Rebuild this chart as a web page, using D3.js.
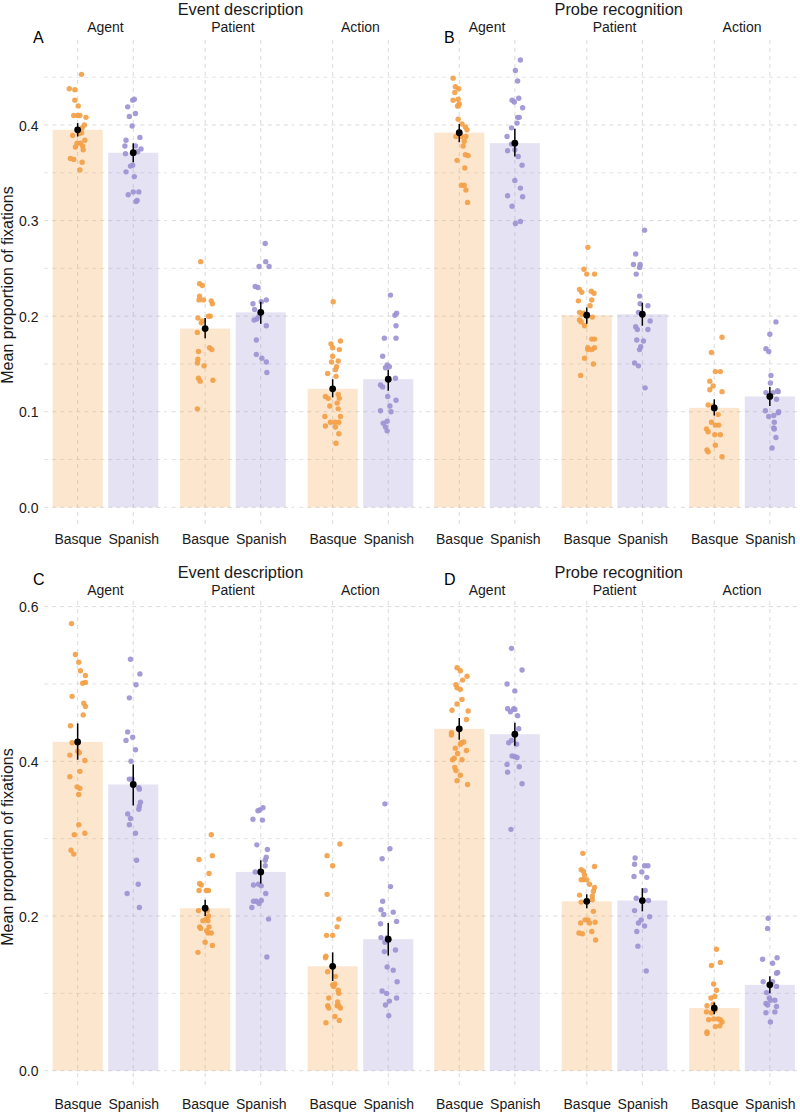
<!DOCTYPE html>
<html><head><meta charset="utf-8">
<script src="https://cdn.jsdelivr.net/npm/d3@7"></script>
<style>body{margin:0;background:#fff} svg{display:block} text{font-family:"Liberation Sans",Arial,Helvetica,sans-serif}</style>
</head><body><svg id="c" width="800" height="1113"></svg>
<script>
const languages = ["Basque","Spanish"];
const roles = ["Agent","Patient","Action"];
const panelLabels = ["A","B","C","D"];
const taskTitles = ["Event description","Probe recognition","Event description","Probe recognition"];
const yAxisTitle = "Mean proportion of fixations";
const yTicksTop = [0,0.1,0.2,0.3,0.4];
const yMinorTop = [0.05,0.15,0.25,0.35,0.45];
const yTicksBottom = [0,0.2,0.4,0.6];
const yMinorBottom = [0.1,0.3,0.5];

// order: Agent-Basque, Agent-Spanish, Patient-Basque, Patient-Spanish, Action-Basque, Action-Spanish
const meanA = [0.395,0.371,0.187,0.204,0.124,0.134];
const lowA  = [0.388,0.361,0.177,0.192,0.115,0.122];
const highA = [0.402,0.381,0.198,0.215,0.134,0.144];
const meanB = [0.392,0.381,0.201,0.202,0.104,0.116];
const lowB  = [0.382,0.367,0.192,0.190,0.096,0.106];
const highB = [0.401,0.396,0.209,0.214,0.113,0.126];
const meanC = [0.425,0.370,0.210,0.257,0.135,0.170];
const lowC  = [0.402,0.343,0.200,0.242,0.116,0.149];
const highC = [0.449,0.396,0.221,0.272,0.153,0.191];
const meanD = [0.442,0.435,0.219,0.220,0.081,0.111];
const lowD  = [0.428,0.420,0.210,0.206,0.073,0.100];
const highD = [0.456,0.450,0.228,0.236,0.088,0.122];

// participant points: [value, horizontal jitter as fraction of category step]
const ptsA = [
 [[0.453,0.07],[0.438,-0.15],[0.437,-0.05],[0.426,-0.05],[0.420,0.01],[0.410,-0.07],[0.410,0],[0.410,0.04],[0.408,0.15],[0.400,0.12],[0.397,0.08],[0.392,0.07],[0.391,0.03],[0.389,-0.09],[0.384,0.13],[0.381,-0.01],[0.381,0.05],[0.378,0.09],[0.377,-0.04],[0.374,0.10],[0.365,-0.13],[0.364,-0.07],[0.361,0.08],[0.353,0.04]],
 [[0.427,0.02],[0.426,-0.01],[0.419,-0.10],[0.412,0.04],[0.409,-0.07],[0.399,-0.02],[0.387,0.12],[0.384,-0.13],[0.378,-0.15],[0.378,0.04],[0.375,0.14],[0.372,0.08],[0.370,-0.14],[0.357,-0.05],[0.358,-0.01],[0.351,-0.13],[0.346,0.02],[0.327,-0.09],[0.330,0],[0.330,0.10],[0.320,0.05],[0.321,0.07]],
 [[0.257,-0.08],[0.234,-0.10],[0.232,-0.05],[0.221,-0.10],[0.217,-0.11],[0.217,-0.03],[0.216,0.11],[0.213,0.13],[0.200,0.06],[0.200,0.09],[0.198,-0.13],[0.195,-0.05],[0.193,-0.07],[0.183,-0.14],[0.163,-0.12],[0.167,0.08],[0.165,0.12],[0.155,-0.13],[0.151,-0.14],[0.148,-0.02],[0.135,-0.12],[0.132,-0.09],[0.133,0.14],[0.103,-0.14]],
 [[0.276,0.08],[0.257,0.09],[0.252,-0.03],[0.252,0.15],[0.231,-0.10],[0.230,-0.05],[0.213,-0.14],[0.215,0.01],[0.217,0.10],[0.207,-0.11],[0.196,-0.12],[0.197,-0.07],[0.200,-0.03],[0.190,0.10],[0.175,-0.08],[0.160,-0.08],[0.156,0.02],[0.152,0.10],[0.141,0.11]],
 [[0.215,0.01],[0.171,-0.03],[0.174,0.14],[0.167,0],[0.165,0.12],[0.158,0],[0.153,0.10],[0.152,-0.02],[0.147,0.07],[0.144,0.05],[0.140,-0.09],[0.137,0.06],[0.116,-0.13],[0.114,-0.08],[0.118,0.10],[0.114,0.12],[0.109,0.08],[0.106,-0.05],[0.103,0.10],[0.095,-0.14],[0.095,0.14],[0.089,-0.04],[0.089,0.04],[0.089,0.11],[0.085,-0.13],[0.084,0.05],[0.077,0.11],[0.067,0.06]],
 [[0.222,0.04],[0.203,0.15],[0.201,0.12],[0.190,0.14],[0.177,-0.07],[0.177,0.14],[0.158,-0.10],[0.149,-0.02],[0.147,0.02],[0.146,-0.05],[0.135,0.13],[0.128,-0.14],[0.126,-0.10],[0.116,-0.01],[0.112,0.14],[0.101,-0.14],[0.100,0.05],[0.106,0.03],[0.090,-0.02],[0.088,-0.09],[0.084,-0.05],[0.080,-0.02]]
];
const ptsB = [
 [[0.449,-0.11],[0.440,-0.07],[0.438,-0.01],[0.434,-0.08],[0.426,-0.11],[0.427,-0.02],[0.422,0],[0.420,-0.02],[0.420,-0.03],[0.406,-0.02],[0.401,0.05],[0.398,0.11],[0.395,0.14],[0.388,-0.06],[0.388,0.04],[0.388,0.12],[0.383,0.09],[0.378,0.07],[0.369,0.11],[0.368,0.16],[0.363,-0.04],[0.355,0.10],[0.337,0.04],[0.337,0.09],[0.332,0.12],[0.319,0.15]],
 [[0.468,0.10],[0.457,0.01],[0.446,0.05],[0.426,-0.05],[0.424,-0.01],[0.428,0.07],[0.418,0.14],[0.408,0.05],[0.408,0.08],[0.402,0.04],[0.397,-0.06],[0.388,-0.14],[0.380,-0.06],[0.373,-0.13],[0.374,0],[0.367,0.06],[0.358,0.13],[0.342,0],[0.334,0.10],[0.326,-0.13],[0.325,0.14],[0.315,-0.05],[0.297,0.01],[0.299,0.10]],
 [[0.272,0.02],[0.249,-0.05],[0.244,0],[0.244,0.14],[0.228,-0.13],[0.225,-0.09],[0.226,0.08],[0.224,0.13],[0.216,-0.15],[0.217,0.09],[0.211,0.06],[0.204,-0.13],[0.202,-0.08],[0.203,-0.05],[0.199,0.10],[0.196,-0.13],[0.194,-0.10],[0.190,-0.04],[0.176,0.09],[0.176,0.14],[0.167,0.02],[0.167,0.14],[0.165,0.09],[0.165,0.02],[0.156,-0.04],[0.150,0.12],[0.138,-0.11]],
 [[0.290,0.04],[0.265,-0.12],[0.254,-0.16],[0.254,-0.04],[0.251,-0.05],[0.244,-0.11],[0.221,-0.05],[0.213,-0.04],[0.211,0.10],[0.204,-0.07],[0.195,0.14],[0.189,-0.12],[0.186,-0.09],[0.186,0.10],[0.175,-0.10],[0.174,0.02],[0.168,-0.03],[0.165,-0.05],[0.151,-0.14],[0.148,-0.07],[0.125,0.05]],
 [[0.178,0.14],[0.162,-0.05],[0.142,0.02],[0.142,0.11],[0.132,-0.08],[0.127,-0.02],[0.121,0.14],[0.123,-0.08],[0.107,-0.11],[0.106,-0.02],[0.097,0.07],[0.089,-0.05],[0.086,0.02],[0.086,0.08],[0.082,-0.14],[0.079,-0.11],[0.076,0.01],[0.076,0.11],[0.065,0.02],[0.060,-0.13],[0.058,-0.11],[0.053,0.14]],
 [[0.194,0.11],[0.181,0],[0.166,-0.07],[0.163,-0.02],[0.138,0.02],[0.130,0.01],[0.120,-0.07],[0.120,0.06],[0.122,0.14],[0.121,0.15],[0.113,0.12],[0.101,-0.08],[0.095,-0.02],[0.096,0.07],[0.099,0.15],[0.100,0.16],[0.089,0.08],[0.083,0.07],[0.082,0.08],[0.073,0.11],[0.062,0.04]]
];
const ptsC = [
 [[0.578,-0.11],[0.538,-0.04],[0.528,0.02],[0.517,0.05],[0.511,0.14],[0.501,0.09],[0.502,0.14],[0.484,-0.10],[0.475,0.11],[0.471,0.14],[0.460,0.10],[0.446,-0.13],[0.424,-0.10],[0.413,0],[0.411,0.03],[0.408,-0.14],[0.401,0.13],[0.387,0.04],[0.380,-0.14],[0.367,-0.01],[0.365,0.04],[0.357,0.02],[0.318,0.02],[0.305,-0.06],[0.307,0.13],[0.285,-0.12],[0.280,-0.07]],
 [[0.532,-0.05],[0.513,0.12],[0.499,0.05],[0.482,-0.07],[0.438,-0.10],[0.427,-0.13],[0.431,-0.01],[0.415,0.04],[0.400,-0.04],[0.377,-0.07],[0.377,-0.02],[0.366,0.10],[0.364,0.11],[0.347,0.13],[0.342,0.11],[0.338,0.10],[0.332,-0.10],[0.326,-0.05],[0.318,-0.07],[0.307,0.04],[0.272,0.06],[0.241,0.09],[0.229,-0.11],[0.211,0.11]],
 [[0.305,0.11],[0.278,0.13],[0.273,-0.11],[0.255,0.07],[0.242,-0.10],[0.240,-0.07],[0.233,-0.11],[0.233,0.02],[0.233,0.06],[0.207,0.04],[0.207,-0.12],[0.200,0.06],[0.196,0.02],[0.194,-0.04],[0.194,0.05],[0.186,-0.10],[0.184,-0.08],[0.186,0.07],[0.181,0.03],[0.178,0.11],[0.178,0.05],[0.166,0],[0.162,0.13],[0.153,-0.13]],
 [[0.340,0.04],[0.337,-0.02],[0.336,-0.05],[0.325,-0.14],[0.324,0.03],[0.292,-0.07],[0.286,0.12],[0.276,0.10],[0.272,0.08],[0.265,0.08],[0.257,-0.10],[0.257,0.01],[0.240,-0.13],[0.241,-0.04],[0.239,0.01],[0.229,0.09],[0.219,-0.13],[0.219,-0.08],[0.220,0.01],[0.216,-0.03],[0.211,-0.16],[0.196,0.14],[0.147,0.11]],
 [[0.293,0.13],[0.278,-0.10],[0.265,0],[0.228,-0.10],[0.196,0.11],[0.186,0.08],[0.175,-0.11],[0.175,0],[0.148,-0.12],[0.146,-0.13],[0.128,-0.09],[0.122,0.05],[0.111,0],[0.109,0.02],[0.112,0.04],[0.104,0.10],[0.100,0.11],[0.094,-0.07],[0.084,-0.09],[0.081,-0.07],[0.089,0.09],[0.084,0.08],[0.081,0.14],[0.084,0.11],[0.070,0.04],[0.065,0.12],[0.062,-0.12]],
 [[0.345,-0.06],[0.287,0.03],[0.274,-0.11],[0.238,0.04],[0.219,-0.10],[0.208,-0.13],[0.202,-0.08],[0.205,0.09],[0.193,0.15],[0.190,-0.14],[0.172,-0.13],[0.172,-0.02],[0.166,-0.06],[0.156,0.13],[0.154,-0.07],[0.134,-0.02],[0.130,0.09],[0.115,0.16],[0.103,-0.11],[0.100,-0.03],[0.090,0.02],[0.085,-0.05],[0.094,0.15],[0.071,0.01]]
];
const ptsD = [
 [[0.521,-0.04],[0.517,0.02],[0.510,0.14],[0.505,0.06],[0.499,-0.06],[0.495,-0.04],[0.493,0.02],[0.480,0.05],[0.474,-0.04],[0.466,-0.13],[0.465,0.16],[0.454,0.13],[0.437,-0.14],[0.434,-0.14],[0.424,0.04],[0.425,0.08],[0.422,0.02],[0.417,-0.07],[0.414,0.13],[0.410,-0.03],[0.402,-0.12],[0.404,-0.09],[0.402,0.05],[0.392,-0.08],[0.388,-0.06],[0.382,0.02],[0.375,-0.04],[0.370,0.15]],
 [[0.546,-0.06],[0.518,0.13],[0.500,-0.14],[0.491,0],[0.468,-0.13],[0.468,-0.02],[0.464,-0.08],[0.467,0],[0.459,0.05],[0.442,0.07],[0.424,-0.11],[0.427,-0.06],[0.422,0.03],[0.407,-0.05],[0.406,0],[0.405,0.04],[0.396,-0.14],[0.386,-0.13],[0.393,0.08],[0.371,0.13],[0.312,-0.07]],
 [[0.281,-0.07],[0.264,0.14],[0.260,-0.10],[0.258,-0.06],[0.253,-0.04],[0.247,-0.06],[0.247,-0.10],[0.247,0],[0.241,0.05],[0.237,0.14],[0.232,0.12],[0.226,0.10],[0.227,-0.13],[0.218,-0.10],[0.221,0.10],[0.206,0.12],[0.195,-0.03],[0.195,0.02],[0.191,-0.11],[0.192,0.15],[0.191,0.05],[0.178,-0.14],[0.177,-0.08],[0.180,0.09],[0.169,0.16]],
 [[0.275,-0.13],[0.267,-0.14],[0.265,0.04],[0.265,0.10],[0.257,-0.01],[0.251,-0.15],[0.250,0.08],[0.233,0.05],[0.223,-0.11],[0.220,0.11],[0.207,-0.14],[0.199,0.13],[0.195,-0.02],[0.191,-0.07],[0.187,0.04],[0.180,-0.10],[0.161,-0.08],[0.129,0.07]],
 [[0.157,0.04],[0.136,-0.05],[0.140,0.11],[0.112,-0.01],[0.104,0.04],[0.094,-0.06],[0.096,0.01],[0.084,-0.13],[0.086,-0.02],[0.076,-0.14],[0.075,-0.05],[0.078,0.01],[0.066,-0.10],[0.067,-0.01],[0.067,0.07],[0.063,0.14],[0.066,0.11],[0.057,0.02],[0.058,0.10],[0.050,-0.13],[0.048,-0.13]],
 [[0.197,-0.03],[0.184,-0.04],[0.144,-0.13],[0.146,0.13],[0.139,0.05],[0.126,0.12],[0.127,0.14],[0.115,-0.12],[0.115,0.05],[0.109,0.12],[0.101,-0.06],[0.094,-0.01],[0.091,0.01],[0.091,0.09],[0.087,-0.07],[0.085,-0.04],[0.083,0.12],[0.075,-0.07],[0.076,0.09],[0.063,0.01]]
];

const pointColor = {Basque:"#F3A046", Spanish:"#9D92D3"};
const barColor = {Basque:"#F5A24A", Spanish:"#A095D4"};

const panels = [
 {mean:meanA, low:lowA, high:highA, pts:ptsA, row:0, col:0},
 {mean:meanB, low:lowB, high:highB, pts:ptsB, row:0, col:1},
 {mean:meanC, low:lowC, high:highC, pts:ptsC, row:1, col:0},
 {mean:meanD, low:lowD, high:highD, pts:ptsD, row:1, col:1}
];
const rowsCfg = [
 {domain:[0,0.4], range:[507.3,125.0], top:40, bottom:528, ticks:yTicksTop, minor:yMinorTop, titleY:14.5, stripY:31.7, xlabY:544.3, letterY:43, yTitleY:285},
 {domain:[0,0.6], range:[1070.7,606.6], top:601, bottom:1086, ticks:yTicksBottom, minor:yMinorBottom, titleY:578, stripY:595, xlabY:1109.3, letterY:585, yTitleY:847}
];
const colsCfg = [
 {x0:44.3, titleX:240.5, letterX:33},
 {x0:425.9, titleX:618.7, letterX:444}
];
const facetW = 122.3, facetPitch = 127.5;

const svg = d3.select("#c");
const gridCol = "#d6d6d6";

panels.forEach((p, pi) => {
  const R = rowsCfg[p.row], C = colsCfg[p.col];
  const y = d3.scaleLinear().domain(R.domain).range(R.range);
  const g = svg.append("g");

  roles.forEach((role, ri) => {
    const f0 = C.x0 + ri*facetPitch;
    const x = d3.scalePoint().domain(languages).range([f0, f0+facetW]).padding(0.6);
    const step = x.step();
    const bw = step*0.9;
    const fg = g.append("g");
    fg.selectAll("line.hm").data(R.minor).join("line")
      .attr("x1", f0).attr("x2", f0+facetW).attr("y1", d=>y(d)).attr("y2", d=>y(d))
      .attr("stroke", gridCol).attr("stroke-width",0.7).attr("stroke-dasharray","4,4");
    fg.selectAll("line.hM").data(R.ticks).join("line")
      .attr("x1", f0).attr("x2", f0+facetW).attr("y1", d=>y(d)).attr("y2", d=>y(d))
      .attr("stroke", gridCol).attr("stroke-width",0.9).attr("stroke-dasharray","4,4");
    fg.selectAll("line.v").data(languages).join("line")
      .attr("x1", d=>x(d)).attr("x2", d=>x(d)).attr("y1", R.top).attr("y2", R.bottom)
      .attr("stroke", gridCol).attr("stroke-width",0.9).attr("stroke-dasharray","4,4");
    const rows = languages.map((lang, li) => ({lang, m:p.mean[ri*2+li], lo:p.low[ri*2+li], hi:p.high[ri*2+li], pts:p.pts[ri*2+li]}));
    fg.selectAll("rect").data(rows).join("rect")
      .attr("x", d=>x(d.lang)-bw/2).attr("width", bw)
      .attr("y", d=>y(d.m)).attr("height", d=>y(0)-y(d.m))
      .attr("fill", d=>barColor[d.lang]).attr("fill-opacity",0.27);
    rows.forEach(r => {
      fg.append("g").selectAll("circle").data(r.pts).join("circle")
        .attr("cx", d=>x(r.lang)+d[1]*step).attr("cy", d=>y(d[0])).attr("r",2.7)
        .attr("fill", pointColor[r.lang]).attr("fill-opacity",0.92);
    });
    fg.selectAll("line.e").data(rows).join("line")
      .attr("x1", d=>x(d.lang)).attr("x2", d=>x(d.lang)).attr("y1", d=>y(d.lo)).attr("y2", d=>y(d.hi))
      .attr("stroke","#000").attr("stroke-width",1.5);
    fg.selectAll("circle.m").data(rows).join("circle")
      .attr("cx", d=>x(d.lang)).attr("cy", d=>y(d.m)).attr("r",3.4).attr("fill","#000");
    const ax = d3.axisBottom(x).tickSize(0).tickPadding(0);
    const axg = fg.append("g").attr("transform",`translate(0,${R.xlabY})`).call(ax);
    axg.select(".domain").remove();
    axg.selectAll("text").attr("dy",0).attr("y",0).attr("font-size",14).attr("fill","#1a1a1a")
      .attr("font-family",'"Liberation Sans",Arial,Helvetica,sans-serif');
    fg.append("text").attr("x", (x(languages[0])+x(languages[1]))/2).attr("y", R.stripY)
      .attr("text-anchor","middle").attr("font-size",14).attr("fill","#1a1a1a").text(role);
  });

  if (p.col === 0) {
    const ay = d3.axisLeft(y).tickValues(R.ticks).tickFormat(d3.format(".1f")).tickSize(0).tickPadding(0);
    const ayg = g.append("g").attr("transform","translate(38.5,0)").call(ay);
    ayg.select(".domain").remove();
    ayg.selectAll("text").attr("font-size",14).attr("fill","#1a1a1a").attr("dy","0.36em")
      .attr("font-family",'"Liberation Sans",Arial,Helvetica,sans-serif');
    g.append("text").attr("transform",`translate(12.7,${R.yTitleY}) rotate(-90)`)
      .attr("text-anchor","middle").attr("font-size",16).attr("fill","#1a1a1a").text(yAxisTitle);
  }
  g.append("text").attr("x", C.titleX).attr("y", R.titleY).attr("text-anchor","middle")
    .attr("font-size",16.4).attr("fill","#1a1a1a").text(taskTitles[pi]);
  g.append("text").attr("x", C.letterX).attr("y", R.letterY).attr("font-size",16).attr("fill","#000").text(panelLabels[pi]);
});
</script></body></html>
